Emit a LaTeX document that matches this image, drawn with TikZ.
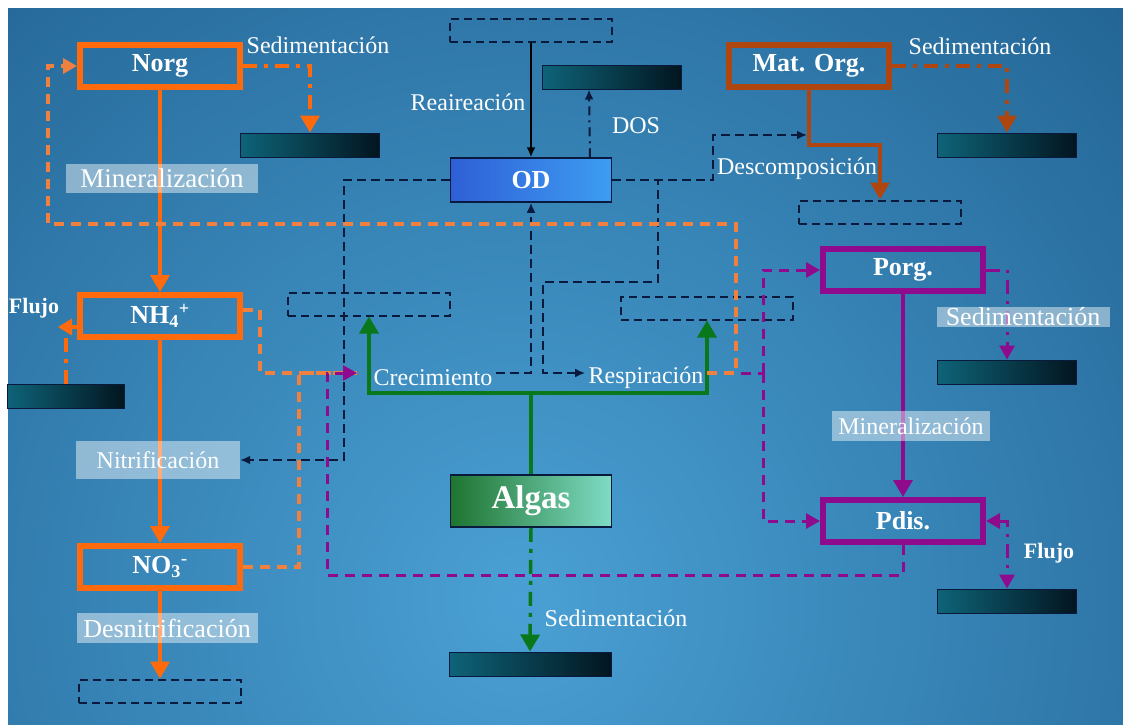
\documentclass[tikz,border=0pt]{standalone}
\usepackage{fontspec}
\setmainfont{Liberation Serif}
\usetikzlibrary{positioning,arrows.meta,calc}
\definecolor{orgO}{HTML}{FF6A0D}
\definecolor{orgL}{HTML}{F08040}
\definecolor{brnM}{HTML}{B0460F}
\definecolor{purP}{HTML}{8E0B8E}
\definecolor{grnA}{HTML}{08781A}
\definecolor{navyD}{HTML}{0A1A3C}
\definecolor{sinkA}{HTML}{0E6378}
\definecolor{sinkB}{HTML}{02151F}
\definecolor{odA}{HTML}{2F5FD6}
\definecolor{odB}{HTML}{3D9DF2}
\definecolor{alA}{HTML}{1E7430}
\definecolor{alB}{HTML}{7FDCC5}
\definecolor{bgIn}{HTML}{4AA0D4}
\definecolor{bgOut}{HTML}{15517F}

\begin{document}
\begin{tikzpicture}[x=1pt,y=-1pt,
    every node/.style={text=white,font=\fontsize{24}{28}\selectfont},
    pool/.style={draw,line width=6pt,minimum width=160pt,minimum height=42pt,
                 font=\fontsize{26}{30}\selectfont\bfseries},
    sink/.style={draw=navyD,line width=1pt,left color=sinkA,right color=sinkB,
                 minimum width=139pt,minimum height=24pt,inner sep=0pt},
    ghost/.style={draw=navyD,dash pattern=on 8pt off 5pt,line width=2pt,
                  minimum width=162pt,minimum height=23pt,inner sep=0pt},
    lbl/.style={fill=white,fill opacity=0.45,text opacity=1,inner sep=0pt},
    tipB/.style={-{Triangle[length=17pt,width=19pt]}},
    tipM/.style={-{Triangle[length=14pt,width=15pt]}},
    tipS/.style={-{Latex[length=10pt,width=9pt]}},
    oline/.style={draw=orgO,line width=3.5pt},
    odash/.style={draw=orgL,line width=3.5pt,dash pattern=on 10pt off 7pt},
    oddot/.style={draw=orgO,line width=3.5pt,dash pattern=on 14pt off 7pt on 4pt off 7pt},
    mline/.style={draw=brnM,line width=3.5pt},
    mddot/.style={draw=brnM,line width=3.5pt,dash pattern=on 14pt off 7pt on 4pt off 7pt},
    pline/.style={draw=purP,line width=3.5pt},
    pdash/.style={draw=purP,line width=3pt,dash pattern=on 10pt off 7pt},
    pddot/.style={draw=purP,line width=3pt,dash pattern=on 14pt off 7pt on 3pt off 7pt},
    gline/.style={draw=grnA,line width=3.5pt},
    gddot/.style={draw=grnA,line width=3.5pt,dash pattern=on 14pt off 7pt on 4pt off 7pt},
    kline/.style={draw=black,line width=1.8pt},
    kdash/.style={draw=navyD,line width=2pt,dash pattern=on 9pt off 5pt},
    kddot/.style={draw=navyD,line width=2pt,dash pattern=on 9pt off 5pt on 2pt off 5pt}]

\useasboundingbox (0,0) rectangle (1123,724);
\fill[white] (0,0) rectangle (1123,724);
\begin{scope}
  \clip (8,8) rectangle (1123,724);
  \shade[inner color=bgIn,outer color=bgOut] (520,600) circle (1150);
\end{scope}

% pools
\node[pool,draw=orgO] (norg) at (160,66) {Norg};
\node[pool,draw=orgO] (nh4) at (160,316) {NH\textsubscript{4}\textsuperscript{+}};
\node[pool,draw=orgO] (no3) at (160,567) {NO\textsubscript{3}\textsuperscript{-}};
\node[pool,draw=brnM] (mat) at (809,66) {Mat. Org.};
\node[pool,draw=purP] (porg) at (903,270) {Porg.};
\node[pool,draw=purP] (pdis) at (903,521) {Pdis.};
\node[draw=navyD,line width=1.5pt,left color=odA,right color=odB,minimum width=161pt,
      minimum height=44pt,font=\fontsize{26}{30}\selectfont\bfseries] (od) at (531,180) {OD};
\node[draw=navyD,line width=1.5pt,left color=alA,right color=alB,minimum width=161pt,
      minimum height=52pt,font=\fontsize{33}{36}\selectfont\bfseries] (alg) at (531,501) {Algas};

\node[sink] (s1) at (310,145) {};
\node[sink,minimum width=117pt] (s2) at (66,396) {};
\node[sink] (s3) at (612,77) {};
\node[sink] (s4) at (1007,145) {};
\node[sink] (s5) at (1007,372) {};
\node[sink] (s6) at (1007,601) {};
\node[sink,minimum width=162pt] (s7) at (530,664) {};

\node[ghost] (g1) at (531,30) {};
\node[ghost] (g2) at (160,691) {};
\node[ghost] (g3) at (880,212) {};
\node[ghost] (g4) at (369,304) {};
\node[ghost,minimum width=172pt] (g5) at (707,308) {};

\coordinate (mb) at (809,145);
\coordinate (dk) at (807,135);
\coordinate (gj) at (531,393);
\coordinate (cin) at (357,373);
\coordinate (pj) at (763,373);
\coordinate (fl) at (58,327);

\draw[oline,tipB] (norg.south) -- (nh4.north);
\draw[oline,tipB] (nh4.south) -- (no3.north);
\draw[oline,tipB] (no3.south) -- (g2.north);
\draw[oddot,tipB] (norg.east) -| (s1.north);
\draw[oddot] (s2.north) -- (s2.north |- fl);
\draw[oddot,{Triangle[length=14pt,width=16pt]}-] (fl) -- (fl -| nh4.west);
\draw[mline,tipB] (mat.south) -- (mb) -| (g3.north);
\draw[mddot,tipB] (mat.east) -| (s4.north);
\draw[pline,tipB] (porg.south) -- (pdis.north);
\draw[pddot,tipM] (porg.east) -| (s5.north);
\draw[pddot,{Triangle[length=14pt,width=15pt]}-{Triangle[length=14pt,width=15pt]}] (pdis.east) -| (s6.north);
\draw[gline,tipB] (alg.north) -- (gj) -| (g4.south);
\draw[gline,tipB] (gj) -| (g5.south);
\draw[gddot,tipB] (alg.south) -- (s7.north);
\draw[kline,tipS] (g1.south) -- (od.north);
\draw[kddot,tipS] ($(od.north)+(59,0)$) -- ($(s3.south)+(-23,0)$);
\draw[kdash,tipS] (od.east) -| (713,135) -- (dk);

% labels
\node (t1) at (318,45) {Sedimentación};
\node[lbl,minimum width=192pt,minimum height=29pt,font=\fontsize{27}{30}\selectfont] (t2) at (162,178) {Mineralización};
\node[lbl,minimum width=164pt,minimum height=38pt] (t3) at (158,460) {Nitrificación};
\node[lbl,minimum width=181pt,minimum height=30pt,font=\fontsize{26}{30}\selectfont] (t4) at (167,628) {Desnitrificación};
\node[font=\fontsize{22}{26}\selectfont\bfseries] (t5) at (34,308) {Flujo};
\node (t6) at (468,102) {Reaireación};
\node (t7) at (636,126) {DOS};
\node (t8) at (980,46) {Sedimentación};
\node (t9) at (797,169) {Descomposición};
\node (cre) at (433,378) {Crecimiento};
\node (res) at (646,378) {Respiración};
\node[lbl,minimum width=173pt,minimum height=20pt,font=\fontsize{26}{30}\selectfont] (t10) at (1023,317) {Sedimentación};
\node[lbl,minimum width=158pt,minimum height=30pt] (t11) at (911,426) {Mineralización};
\node[font=\fontsize{22}{26}\selectfont\bfseries] (t12) at (1049,553) {Flujo};
\node (t13) at (616,618) {Sedimentación};

\draw[kdash,tipS] (od.east) -| (658,282) -| (543,373) -- ([yshift=5pt]res.west);
\draw[kdash,tipS] (od.west) -| (344,460) -- (t3.east);
\draw[kdash,tipS] ([yshift=5pt]cre.east) -| (od.south);
\draw[odash] ([yshift=6pt]nh4.east) -- ++(17,0) |- (cin);
\draw[odash] (no3.east) -| (299,373) -- (cin);
\draw[pdash] ([yshift=5pt]res.east) -- (pj);
\draw[pdash,tipM] (pj) |- (porg.west);
\draw[pdash,tipM] (pj) |- (pdis.west);
\draw[odash,tipM] ([yshift=5pt]res.east) -- (736,373) |- (48,224) |- (norg.west);
\draw[pdash,tipM] (pdis.south) |- (327,575) |- (cin);
\end{tikzpicture}
\end{document}
